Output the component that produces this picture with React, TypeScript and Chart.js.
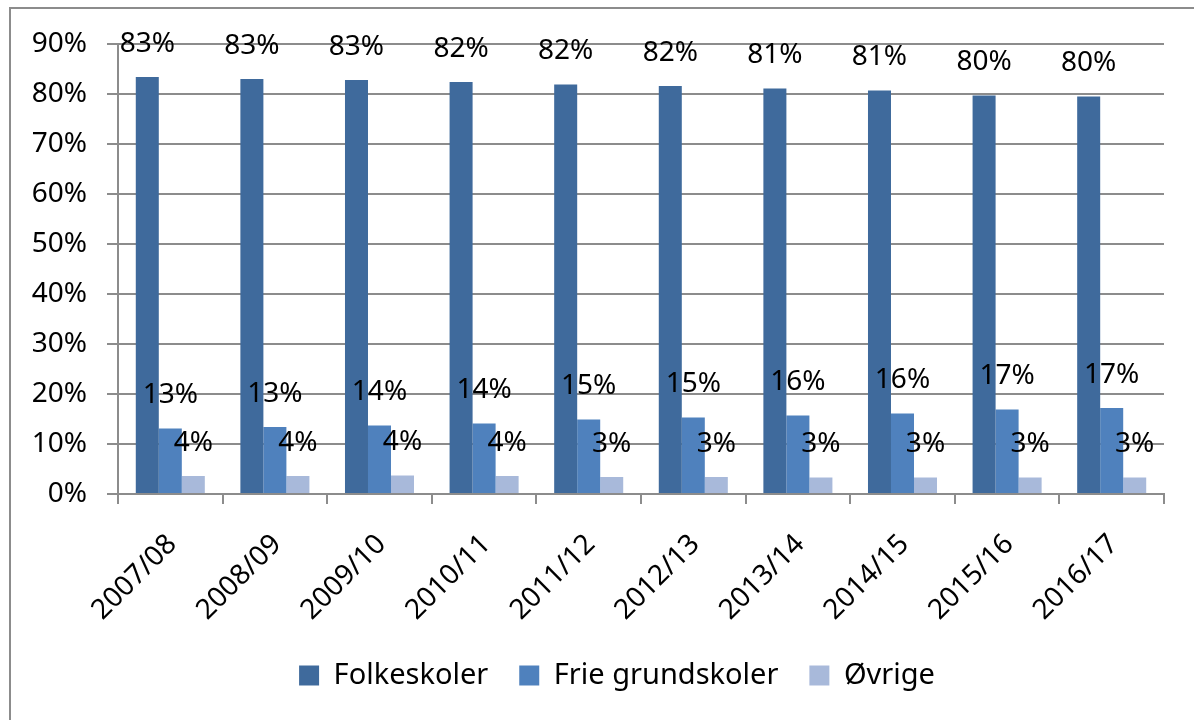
import React, { useEffect, useRef } from "react";
import { Chart, registerables } from "chart.js";

Chart.register(...registerables);

const categories = ["2007/08", "2008/09", "2009/10", "2010/11", "2011/12", "2012/13", "2013/14", "2014/15", "2015/16", "2016/17"];
const folkeskoler = [83.4, 83.0, 82.8, 82.4, 81.9, 81.6, 81.1, 80.7, 79.7, 79.5];
const frieGrundskoler = [13.1, 13.4, 13.7, 14.1, 14.9, 15.3, 15.7, 16.1, 16.9, 17.2];
const ovrige = [3.6, 3.6, 3.7, 3.6, 3.4, 3.4, 3.3, 3.3, 3.3, 3.3];
const seriesNames = ["Folkeskoler", "Frie grundskoler", "Øvrige"];
const seriesColors = ["#3f6a9c", "#4f81bd", "#a8b9da"];

const FONT = "'Noto Sans', 'Open Sans', sans-serif";
const GRID = "#8c8c8c";
const LEGEND_SHIFT = 35;

const valueLabels = {
  id: "valueLabels",
  afterDatasetsDraw(chart: any) {
    const ctx = chart.ctx;
    ctx.save();
    ctx.font = `28px ${FONT}`;
    ctx.fillStyle = "#000";
    ctx.textAlign = "center";
    ctx.textBaseline = "middle";
    chart.data.datasets.forEach((ds: any, di: number) => {
      const meta = chart.getDatasetMeta(di);
      meta.data.forEach((bar: any, i: number) => {
        const v = ds.data[i];
        ctx.fillText(Math.round(v) + "%", bar.x, bar.y - 33);
      });
    });
    ctx.restore();
  },
};

const legendShift = {
  id: "legendShift",
  afterLayout(chart: any) {
    const l = chart.legend;
    if (l) {
      l.left += LEGEND_SHIFT;
      l.right += LEGEND_SHIFT;
    }
  },
};

export default function App() {
  const ref = useRef<HTMLCanvasElement>(null);
  useEffect(() => {
    const data = [folkeskoler, frieGrundskoler, ovrige];
    const chart = new Chart(ref.current!, {
      type: "bar",
      data: {
        labels: categories,
        datasets: seriesNames.map((n, i) => ({
          label: n,
          data: data[i],
          backgroundColor: seriesColors[i],
          borderWidth: 0,
          categoryPercentage: 0.66,
          barPercentage: 1,
        })),
      },
      options: {
        responsive: false,
        animation: false,
        devicePixelRatio: 1,
        layout: { padding: { left: 0, right: 30, top: 44, bottom: 20 } },
        plugins: {
          legend: {
            position: "bottom",
            labels: {
              font: { family: FONT, size: 29 },
              color: "#000",
              boxWidth: 20,
              boxHeight: 20,
              padding: 31,
            },
          },
          tooltip: { enabled: false },
        },
        scales: {
          x: {
            afterFit: (s: any) => {
              s.height = 136;
            },
            grid: {
              offset: true,
              drawOnChartArea: false,
              drawTicks: true,
              tickLength: 10,
              color: GRID,
              lineWidth: 2,
            },
            border: { display: true, color: GRID, width: 2 },
            ticks: {
              font: { family: FONT, size: 28 },
              color: "#000",
              maxRotation: 45,
              minRotation: 45,
              autoSkip: false,
              padding: 24,
              labelOffset: 2,
            },
          },
          y: {
            min: 0,
            max: 90,
            afterFit: (s: any) => {
              s.width = 118;
            },
            grid: { color: GRID, lineWidth: 2, tickLength: 11 },
            border: { display: true, color: GRID, width: 2 },
            ticks: {
              stepSize: 10,
              font: { family: FONT, size: 28 },
              color: "#000",
              padding: 20,
              callback: (v: any) => v + "%",
            },
          },
        },
      },
      plugins: [valueLabels, legendShift],
    });
    return () => chart.destroy();
  }, []);
  return (
    <div style={{ position: "absolute", left: 0, top: 0, width: 1194, height: 720, overflow: "hidden", background: "#fff" }}>
      <canvas ref={ref} width={1194} height={720} style={{ display: "block" }} />
      <div
        style={{
          position: "absolute",
          left: 9,
          top: 7,
          width: 1300,
          height: 800,
          borderLeft: `2px solid ${GRID}`,
          borderTop: `2px solid ${GRID}`,
          pointerEvents: "none",
        }}
      />
    </div>
  );
}
